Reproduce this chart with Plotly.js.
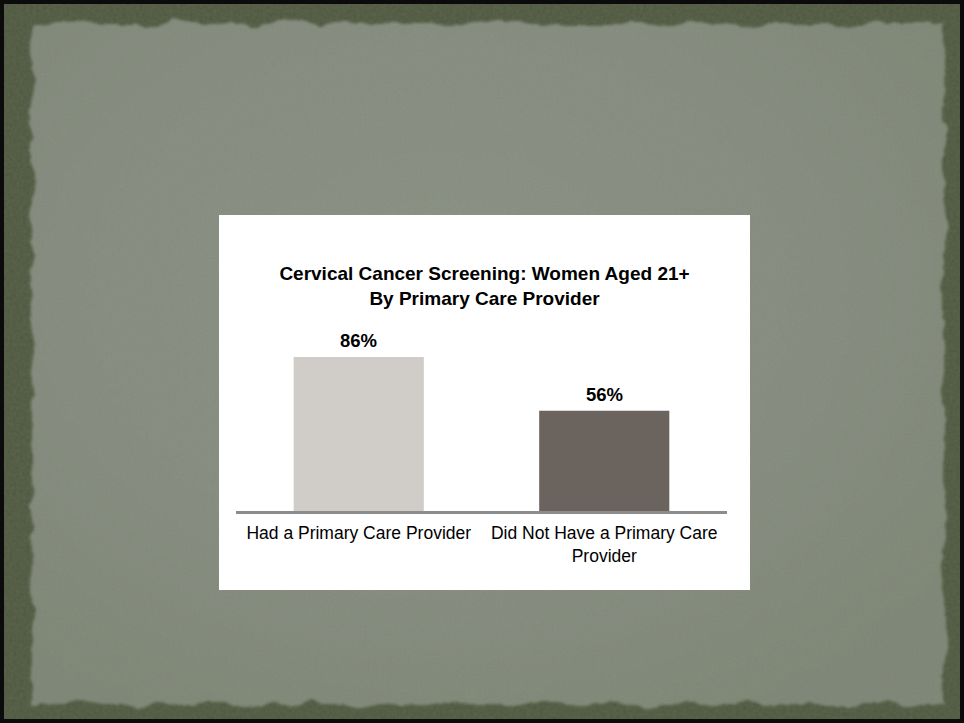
<!DOCTYPE html>
<html>
<head>
<meta charset="utf-8">
<script src="https://cdn.plot.ly/plotly-3.0.1.min.js"></script>
<style>
  html, body { margin: 0; padding: 0; width: 964px; height: 723px; overflow: hidden; background: #0b0b0b; }
  #bg { position: absolute; left: 0; top: 0; }
  #chart {
    position: absolute; left: 219px; top: 215px; width: 531px; height: 375px; background: #ffffff;
  }
</style>
</head>
<body>
<svg id="bg" width="964" height="723" xmlns="http://www.w3.org/2000/svg">
  <defs>
    <filter id="noise" x="0" y="0" width="100%" height="100%">
      <feTurbulence type="fractalNoise" baseFrequency="0.3" numOctaves="3" seed="4" result="n"/>
      <feColorMatrix in="n" type="matrix"
        values="0 0 0 0 0  0 0 0 0 0  0 0 0 0 0  0 0 0 0.3 0" result="dark"/>
      <feComposite in="dark" in2="SourceGraphic" operator="in" result="d2"/>
      <feMerge><feMergeNode in="SourceGraphic"/><feMergeNode in="d2"/></feMerge>
    </filter>
    <filter id="torn" x="-5%" y="-5%" width="110%" height="110%">
      <feTurbulence type="fractalNoise" baseFrequency="0.03" numOctaves="4" seed="7" result="t"/>
      <feDisplacementMap in="SourceGraphic" in2="t" scale="15" xChannelSelector="R" yChannelSelector="G" result="disp0"/>
      <feGaussianBlur in="disp0" stdDeviation="1.6" result="disp"/>
      <feTurbulence type="fractalNoise" baseFrequency="0.5" numOctaves="2" seed="2" result="n2"/>
      <feColorMatrix in="n2" type="matrix"
        values="0 0 0 0 0  0 0 0 0 0  0 0 0 0 0  0 0 0 0.1 0" result="dark2"/>
      <feComposite in="dark2" in2="disp" operator="in" result="d3"/>
      <feMerge><feMergeNode in="disp"/><feMergeNode in="d3"/></feMerge>
    </filter>
    <radialGradient id="pg" cx="0.45" cy="0.4" r="0.7">
      <stop offset="0" stop-color="#8f9588"/>
      <stop offset="0.6" stop-color="#8a9183"/>
      <stop offset="1" stop-color="#838b7b"/>
    </radialGradient>
  </defs>
  <rect x="0" y="0" width="964" height="723" fill="#0b0b0b"/>
  <rect x="4" y="4" width="956" height="715" fill="#5d664d" filter="url(#noise)"/>
  <rect x="32" y="24" width="912" height="680" fill="url(#pg)" filter="url(#torn)"/>
</svg>
<div id="chart"></div>
<script>
const categories = ["Had a Primary Care Provider", "Did Not Have a Primary Care Provider"];
const tickLabels = ["Had a Primary Care Provider", "Did Not Have a Primary Care<br>Provider"];
const values = [86, 56];
const valueLabels = ["86%", "56%"];
const barColors = ["#d0cdc9", "#6b645e"];
const chartTitle = "Cervical Cancer Screening: Women Aged 21+<br>By Primary Care Provider";

const trace = {
  type: "bar",
  x: categories,
  y: values,
  marker: { color: barColors },
  hoverinfo: "none"
};

const annotations = categories.map((c, i) => ({
  x: c, y: values[i], xref: "x", yref: "y",
  text: "<b>" + valueLabels[i] + "</b>", showarrow: false,
  yanchor: "bottom", yshift: 4,
  font: { family: "Liberation Sans, Arial, sans-serif", size: 18.5, color: "#000000" }
}));

const layout = {
  width: 531, height: 375,
  margin: { l: 17, r: 23, t: 117, b: 79 },
  paper_bgcolor: "#ffffff",
  plot_bgcolor: "#ffffff",
  showlegend: false,
  bargap: 0.47,
  title: {
    text: "<b>" + chartTitle.replace("<br>", "</b><br><b>") + "</b>",
    x: 0.5, xanchor: "center",
    y: 1 - 65 / 375, yref: "container", yanchor: "middle",
    font: { family: "Liberation Sans, Arial, sans-serif", size: 19, color: "#000000" }
  },
  xaxis: {
    type: "category",
    tickvals: categories,
    ticktext: tickLabels,
    showline: true, linecolor: "#8c8c8c", linewidth: 3,
    ticks: "", showgrid: false, zeroline: false,
    ticklabelstandoff: 4,
    tickfont: { family: "Liberation Sans, Arial, sans-serif", size: 17.5, color: "#000000" },
    range: [-0.5, 1.5], fixedrange: true
  },
  yaxis: {
    range: [0, 100], showgrid: false, zeroline: false, showline: false,
    showticklabels: false, ticks: "", fixedrange: true
  },
  annotations: annotations
};

Plotly.newPlot("chart", [trace], layout, { displayModeBar: false, staticPlot: true });
</script>
</body>
</html>
